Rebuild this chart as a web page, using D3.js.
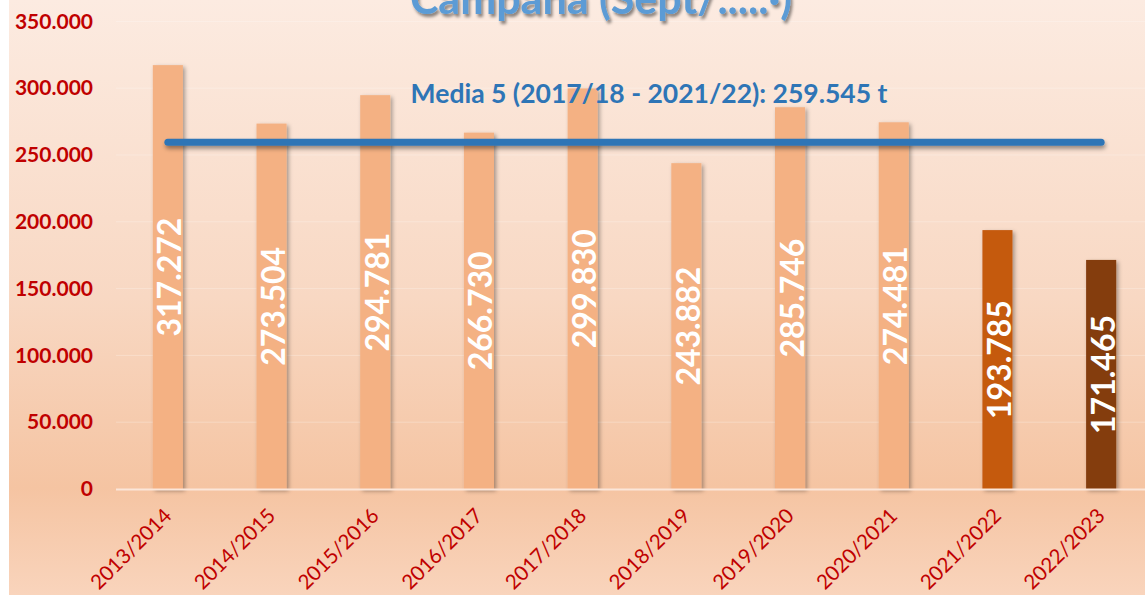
<!DOCTYPE html>
<html>
<head>
<meta charset="utf-8">
<script src="https://cdn.jsdelivr.net/npm/d3@7"></script>
<style>
  html, body { margin: 0; padding: 0; background: #ffffff; }
  svg { display: block; }
  text { font-family: "Lato", "Open Sans", sans-serif; }
</style>
</head>
<body>
<svg id="chart" width="1145" height="597"></svg>
<script>
// Campaign production (t) per season
const categories = ["2013/2014", "2014/2015", "2015/2016", "2016/2017", "2017/2018",
                    "2018/2019", "2019/2020", "2020/2021", "2021/2022", "2022/2023"];
const values = [317272, 273504, 294781, 266730, 299830, 243882, 285746, 274481, 193785, 171465];
const yTicks = [0, 50000, 100000, 150000, 200000, 250000, 300000, 350000];
// seasons averaged for the reference line
const meanSeasons = ["2017/2018", "2018/2019", "2019/2020", "2020/2021", "2021/2022"];
const titleText = "Campaña (Sept/.....·)";

const W = 1145, H = 597;
const svg = d3.select("#chart");

const es = d3.formatLocale({ decimal: ",", thousands: ".", grouping: [3], currency: ["", " €"] });
const fmt = es.format(",.0f");

const defs = svg.append("defs");
const bg = defs.append("linearGradient").attr("id", "bg")
  .attr("x1", 0).attr("y1", 0).attr("x2", 0).attr("y2", 1);
bg.append("stop").attr("offset", "0%").attr("stop-color", "#fcebe1");
bg.append("stop").attr("offset", "50%").attr("stop-color", "#f8d8c3");
bg.append("stop").attr("offset", "82%").attr("stop-color", "#f5c4a2");
bg.append("stop").attr("offset", "100%").attr("stop-color", "#f9d4bc");

function shadow(id, dx, dy, sd, op) {
  defs.append("filter").attr("id", id)
    .attr("filterUnits", "userSpaceOnUse")
    .attr("x", 0).attr("y", -60).attr("width", W).attr("height", H + 60)
    .append("feDropShadow").attr("dx", dx).attr("dy", dy).attr("stdDeviation", sd)
    .attr("flood-color", "#000").attr("flood-opacity", op);
}
shadow("barShadow", 2, 2, 2, 0.35);
shadow("lineShadow", 1, 3, 2, 0.4);
shadow("titleShadow", 2, 3, 1.5, 0.45);

svg.append("rect").attr("x", 9).attr("y", 0).attr("width", W - 9).attr("height", H - 2)
  .attr("fill", "url(#bg)");

const x = d3.scaleBand().domain(categories).range([116, 1153])
  .paddingInner(0.71).paddingOuter(0.355);
const y = d3.scaleLinear().domain([0, 350000]).range([489, 21.4]);

// faint horizontal gridlines
svg.append("g").selectAll("line").data(yTicks.slice(1)).join("line")
  .attr("x1", 116).attr("x2", W).attr("y1", d => y(d)).attr("y2", d => y(d))
  .attr("stroke", "#ffffff").attr("stroke-opacity", 0.25).attr("stroke-width", 1);

// y axis labels
const yAxis = svg.append("g").attr("transform", "translate(93,0)")
  .call(d3.axisLeft(y).tickValues(yTicks).tickFormat(fmt).tickSize(0).tickPadding(0));
yAxis.select(".domain").remove();
yAxis.selectAll("text")
  .attr("fill", "#c00000").attr("font-size", 21).attr("font-weight", 700)
  .attr("font-family", "Lato, sans-serif");

// bars
const barColor = i => i === categories.length - 1 ? "#843c0c"
  : i === categories.length - 2 ? "#c55a11" : "#f4b183";
svg.append("g").selectAll("rect").data(values).join("rect")
  .attr("x", (d, i) => x(categories[i]))
  .attr("y", d => y(d))
  .attr("width", x.bandwidth())
  .attr("height", d => y(0) - y(d))
  .attr("fill", (d, i) => barColor(i))
  .attr("filter", "url(#barShadow)");

// zero line
svg.append("line").attr("x1", 116).attr("x2", W).attr("y1", y(0) + 0.5).attr("y2", y(0) + 0.5)
  .attr("stroke", "#fbe6d9").attr("stroke-width", 2);

// value labels inside bars
svg.append("g").selectAll("text").data(values).join("text")
  .attr("transform", (d, i) => `translate(${x(categories[i]) + x.bandwidth() / 2 + 1},${(y(d) + y(0)) / 2}) rotate(-90)`)
  .attr("text-anchor", "middle").attr("dominant-baseline", "central")
  .attr("fill", "#ffffff").attr("font-size", 32).attr("font-weight", 700)
  .text(d => fmt(d));

// x axis labels
svg.append("g").selectAll("text").data(categories).join("text")
  .attr("transform", d => `translate(${x(d) + x.bandwidth() / 2 + 5},517) rotate(-45)`)
  .attr("text-anchor", "end")
  .attr("fill", "#c00000").attr("font-size", 20.5)
  .text(d => d);

// five-season mean line
const meanVal = d3.mean(meanSeasons, s => values[categories.indexOf(s)]);
const cx = c => x(c) + x.bandwidth() / 2;
svg.append("line")
  .attr("x1", cx(categories[0])).attr("x2", cx(categories[categories.length - 1]))
  .attr("y1", y(meanVal)).attr("y2", y(meanVal))
  .attr("stroke", "#2e75b6").attr("stroke-width", 7).attr("stroke-linecap", "round")
  .attr("filter", "url(#lineShadow)");

const shortSeason = s => s.slice(0, 5) + s.slice(7);
svg.append("text")
  .attr("x", 649).attr("y", 103)
  .attr("text-anchor", "middle")
  .attr("fill", "#2e75b6").attr("font-size", 26.5).attr("font-weight", 700)
  .text(`Media 5 (${shortSeason(meanSeasons[0])} - ${shortSeason(meanSeasons[4])}): ${fmt(meanVal)} t`);

// title (runs past the top edge)
svg.append("text")
  .attr("x", 601).attr("y", 14)
  .attr("text-anchor", "middle")
  .attr("fill", "#5b9bd5").attr("font-size", 43).attr("font-weight", 700)
  .attr("filter", "url(#titleShadow)")
  .text(titleText);
</script>
</body>
</html>
